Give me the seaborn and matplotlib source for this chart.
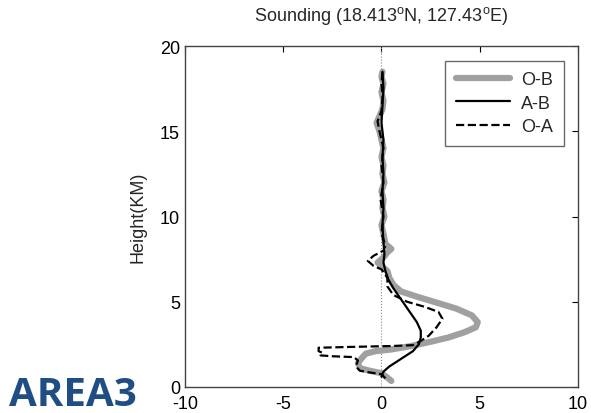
import numpy as np
import pandas as pd
import matplotlib
matplotlib.use('Agg')
import matplotlib.pyplot as plt
import seaborn as sns

# sounding profiles (x in deviation units, y in km)
ob_x = [0.5, 0.3, 0.0, -0.6, -1.1, -1.2, -1.0, -0.8, -0.3, 0.5, 1.5, 2.5, 3.4, 4.2, 4.8, 4.9, 4.6, 3.8,
        2.8, 1.8, 1.0, 0.6, 0.4, 0.3, 0.0, -0.2, 0.1, 0.3, 0.5, 0.2, 0.1, 0.0, 0.15, 0.05, 0.1, 0.0,
        0.15, 0.05, 0.1, 0.0, 0.1, 0.0, -0.1, -0.25, -0.1, 0.05, 0.1, 0.0, 0.1, 0.0, 0.05]
ob_y = [0.35, 0.55, 0.8, 0.95, 1.1, 1.4, 1.7, 1.95, 2.1, 2.2, 2.4, 2.65, 2.9, 3.2, 3.5, 3.8, 4.2, 4.6,
        4.95, 5.3, 5.6, 6.0, 6.4, 6.8, 7.1, 7.3, 7.6, 7.9, 8.1, 8.4, 9.0, 9.5, 10.0, 10.5, 11.0, 11.5,
        12.0, 12.5, 13.0, 13.5, 14.0, 14.5, 15.0, 15.5, 15.9, 16.3, 16.8, 17.3, 17.8, 18.2, 18.5]

ab_x = [0.0, 0.1, 0.4, 0.8, 1.2, 1.6, 1.9, 2.0, 2.0, 1.8, 1.5, 1.2, 0.9, 0.6, 0.35, 0.2, 0.1, 0.15,
        0.1, 0.05, 0.1, 0.05, 0.1, 0.05, 0.1, 0.0, 0.05, 0.1, 0.05]
ab_y = [0.6, 0.9, 1.2, 1.5, 1.8, 2.1, 2.5, 2.9, 3.3, 3.8, 4.3, 4.8, 5.3, 5.8, 6.3, 6.8, 7.3, 7.8,
        8.5, 9.5, 10.5, 11.5, 12.5, 13.5, 14.5, 15.5, 16.5, 17.5, 18.5]

oa_x = [0.2, 0.0, -0.6, -1.1, -1.3, -1.2, -1.4, -2.5, -3.1, -3.0, -3.2, -3.2, -1.5, 0.5, 1.6, 2.0,
        2.4, 2.8, 3.1, 2.9, 2.2, 1.3, 0.6, 0.3, 0.3, 0.0, -0.4, -0.7, -0.4, 0.1, 0.2, 0.0, 0.1, -0.05,
        0.1, 0.0, 0.1, -0.1, -0.2, 0.0, 0.05, 0.0, 0.05]
oa_y = [0.5, 0.75, 0.85, 0.95, 1.2, 1.55, 1.75, 1.8, 1.85, 2.0, 2.1, 2.3, 2.35, 2.4, 2.45, 2.7,
        3.0, 3.5, 4.0, 4.4, 4.7, 5.0, 5.4, 5.9, 6.4, 6.9, 7.1, 7.4, 7.7, 8.0, 8.3, 9.0, 10.0, 11.0,
        12.0, 13.0, 14.0, 15.0, 15.6, 16.2, 17.0, 17.8, 18.5]

sns.set_style('white')
plt.rcParams['font.family'] = ['Liberation Sans', 'DejaVu Sans']
plt.rcParams['mathtext.fontset'] = 'custom'
plt.rcParams['mathtext.rm'] = 'Liberation Sans'
plt.rcParams['mathtext.it'] = 'Liberation Sans'
plt.rcParams['axes.unicode_minus'] = False

fig = plt.figure(figsize=(5.91, 4.14), dpi=100)
ax = fig.add_axes([0.313, 0.063, 0.665, 0.823])

ax.axvline(0, color='#888888', lw=0.8, ls=':', zorder=1)

sns.lineplot(x=ob_x, y=ob_y, sort=False, estimator=None, color='#a0a0a0', lw=4.5, ax=ax, label='O-B')
sns.lineplot(x=ab_x, y=ab_y, sort=False, estimator=None, color='black', lw=1.6, ax=ax, label='A-B')
sns.lineplot(x=oa_x, y=oa_y, sort=False, estimator=None, color='black', lw=1.6, ls='--', ax=ax, label='O-A')

ax.set_xlim(-10, 10)
ax.set_ylim(0, 20)
ax.set_xticks([-10, -5, 0, 5, 10])
ax.set_yticks([0, 5, 10, 15, 20])
ax.tick_params(direction='in', length=4, labelsize=13, colors='black', top=True, right=True)
ax.tick_params(axis='x', pad=6)
for s in ax.spines.values():
    s.set_color('#444444')
    s.set_linewidth(1.0)

ax.set_ylabel('Height(KM)', fontsize=13, labelpad=10)
ax.set_title(r'Sounding (18.413$^{\rm o}$N, 127.43$^{\rm o}$E)', fontsize=13, pad=19)

leg = ax.legend(loc='upper right', fontsize=13, frameon=True, fancybox=False,
                edgecolor='#444444', borderaxespad=0.8, handlelength=3.0, labelspacing=0.35,
                borderpad=0.6, handletextpad=0.6)
leg.get_frame().set_linewidth(1.0)

fig.text(0.015, 0.02, 'AREA3', color='#1f4e85', fontsize=29, fontweight='bold',
         family=['Open Sans', 'DejaVu Sans'])

fig.savefig('out.png', dpi=100)
